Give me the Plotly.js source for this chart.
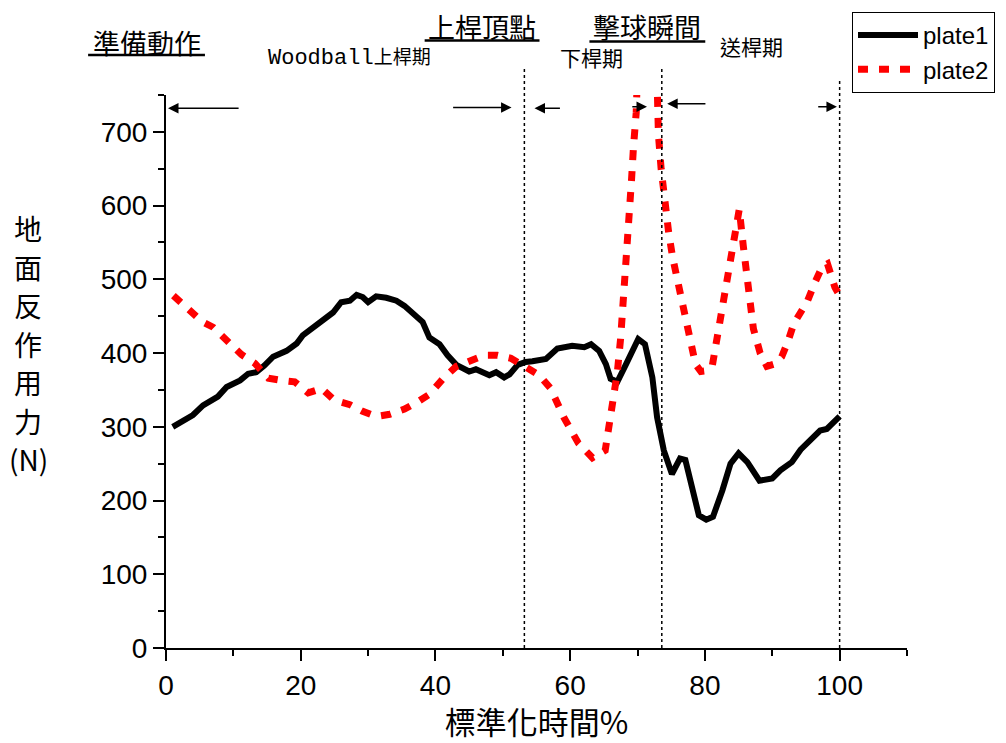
<!DOCTYPE html>
<html>
<head>
<meta charset="utf-8">
<script src="https://cdn.plot.ly/plotly-3.0.1.min.js"></script>
<style>html,body{margin:0;padding:0;background:#fff;}#chart{width:1006px;height:743px;}</style>
</head>
<body>
<div id="chart"></div>
<script>
// ---- data ----
const plate1Name = 'plate1';
const plate1X = [1, 2.8, 4, 5.5, 7.7, 9, 11, 12.2, 13.4, 14.6, 15.9, 17.9, 19.4, 20.3, 21.5, 22.8, 24.8, 26, 27.3, 28.3, 29.2, 30, 31.2, 32.7, 34.2, 35.4, 36.6, 38.1, 39.1, 40.6, 41.8, 43.1, 45, 46, 48, 49, 50.2, 51, 52.2, 53.4, 54.4, 55.4, 56.4, 58.1, 60.3, 62.1, 63.1, 64.3, 65.3, 66, 67, 68.3, 70.1, 71.1, 72.2, 72.9, 73.9, 75.1, 76.3, 77.1, 78.1, 79.1, 80.2, 81.2, 82.6, 83.8, 85, 86.3, 88.1, 90, 91.2, 92.9, 94.2, 95.9, 97.1, 98.1, 100];
const plate1Y = [300, 309, 316, 329, 341, 354, 363, 372, 374, 383, 395, 403, 413, 424, 432, 442, 455, 469, 471, 479, 476, 469, 477, 475, 471, 464, 453, 442, 421, 412, 397, 384, 375, 378, 370, 374, 367, 371, 384, 388, 389, 391, 392, 406, 410, 408, 412, 403, 385, 365, 361, 385, 419, 412, 367, 313, 268, 236, 257, 255, 214, 180, 174, 178, 214, 250, 264, 252, 227, 230, 241, 252, 269, 284, 295, 297, 314];

const plate2Name = 'plate2';
const plate2X = [1.1, 3.3, 5.3, 7, 9.2, 11.2, 13.2, 15.2, 17.1, 19.1, 21.1, 23.1, 25, 27.3, 29.2, 31.2, 33.2, 35.4, 37.4, 39.1, 41.1, 43.1, 45.3, 47.3, 49.2, 51.2, 53.4, 55.4, 57.1, 59.1, 61.2, 63.3, 65.2, 66.1, 67, 67.5, 67.9, 68.5, 69.1, 69.4, 69.8, 70.4, 71.5, 72.6, 73.1, 73.5, 74, 74.6, 75.2, 76.1, 77.1, 77.9, 78.6, 79.4, 80.3, 81.1, 82, 83.1, 83.9, 84.5, 85.1, 85.7, 86.4, 87.2, 88.2, 89.2, 90.3, 91.4, 92.3, 93.2, 94.2, 95.2, 96.3, 97.4, 98.2, 99.3, 100];
const plate2Y = [478, 460, 443, 435, 415, 398, 386, 366, 363, 361, 346, 352, 336, 330, 321, 314, 317, 324, 334, 344, 365, 382, 390, 397, 397, 393, 381, 370, 352, 312, 278, 258, 268, 315, 374, 421, 468, 550, 634, 680, 726, 900, 960, 880, 696, 650, 603, 565, 530, 490, 454, 408, 385, 375, 376, 383, 430, 488, 535, 570, 595, 545, 490, 433, 400, 382, 385, 395, 415, 440, 455, 470, 495, 517, 521, 489, 478];

// phase boundaries (x, %)
const phaseLines = [53.2, 73.6, 100];
// phase arrows: [head x, tail x, y]
const phaseArrows = [[0.3, 11.0, 732], [51.3, 42.4, 733], [54.7, 58.7, 732], [71.4, 69.0, 734], [74.4, 80.3, 738], [99.6, 96.6, 734]];

const xTitle = '標準化時間%';
const yTitleChars = ['地', '面', '反', '作', '用', '力', '(N)'];
const xTickVals = [0, 20, 40, 60, 80, 100];
const yTickVals = [0, 100, 200, 300, 400, 500, 600, 700];

// ---- layout helpers (pixel -> paper) ----
const L = 166, R = 908, T = 95, B = 648, W = R - L, H = B - T;
const px = x => (x - L) / W;
const py = y => (B - y) / H;

const CJK = 'Noto Sans CJK TC';
const SANS = 'Liberation Sans, Arial, sans-serif';

const traces = [
  {x: plate1X, y: plate1Y, name: plate1Name, type: 'scatter', mode: 'lines',
   line: {color: '#000', width: 6}},
  {x: plate2X, y: plate2Y, name: plate2Name, type: 'scatter', mode: 'lines',
   line: {color: '#ff0000', width: 7, dash: '10px,11px'}}
];

const annotations = [];
// vertical y-axis title, one character per row
yTitleChars.forEach((c, i) => annotations.push({xref: 'paper', yref: 'paper', x: px(28), y: py(228 + i * 38.5),
  xanchor: 'center', yanchor: 'middle', text: c, showarrow: false,
  font: {family: CJK, size: 28, color: '#000'}}));

const labels = [
  {t: '準備動作', x: 147, y: 42, s: 27},
  {t: '上桿頂點', x: 482, y: 26, s: 27},
  {t: '擊球瞬間', x: 648, y: 26, s: 27},
  {t: 'Woodball<span style="font-family:Noto Sans CJK TC;font-size:19px">上桿期</span>', x: 350, y: 57, s: 22, f: 'Liberation Mono, monospace'},
  {t: '下桿期', x: 592, y: 57, s: 21},
  {t: '送桿期', x: 752, y: 46, s: 21}
];
labels.forEach(l => annotations.push({xref: 'paper', yref: 'paper', x: px(l.x), y: py(l.y),
  xanchor: 'center', yanchor: 'middle', text: l.t, showarrow: false,
  font: {family: l.f || CJK, size: l.s, color: '#000'}}));

phaseArrows.forEach(a => annotations.push({xref: 'x', yref: 'y', axref: 'x', ayref: 'y',
  x: a[0], y: a[2], ax: a[1], ay: a[2], text: '', showarrow: true,
  arrowhead: 2, arrowsize: 1.4, arrowwidth: 1.5, arrowcolor: '#000', standoff: 0, startstandoff: 0}));

const shapes = [];
phaseLines.forEach((x, i) => shapes.push({type: 'line', xref: 'x', yref: 'paper',
  x0: x, x1: x, y0: 0, y1: py([66, 68, 80][i]), line: {color: '#000', width: 1.5, dash: 'dot'}}));
[[88, 205, 55], [425, 540, 40.5], [590, 706, 41.5]].forEach(u => shapes.push({type: 'line', xref: 'paper', yref: 'paper',
  x0: px(u[0]), x1: px(u[1]), y0: py(u[2]), y1: py(u[2]), line: {color: '#000', width: 2.5}}));

const layout = {
  width: 1006, height: 743,
  margin: {l: L, r: 1006 - R, t: T, b: 743 - B},
  paper_bgcolor: '#fff', plot_bgcolor: '#fff',
  font: {family: SANS, color: '#000'},
  showlegend: true,
  legend: {x: px(852), y: py(12), xanchor: 'left', yanchor: 'top', bgcolor: '#fff',
    bordercolor: '#000', borderwidth: 1, font: {family: SANS, size: 24, color: '#000'},
    itemwidth: 60, tracegroupgap: 0},
  xaxis: {range: [0, 110], tickvals: xTickVals, ticks: 'outside', ticklen: 11, tickwidth: 2, tickcolor: '#000',
    showline: true, linewidth: 2, linecolor: '#000', showgrid: false, zeroline: false,
    tickfont: {family: SANS, size: 28, color: '#000'},
    minor: {dtick: 10, tick0: 0, ticks: 'outside', ticklen: 6, tickwidth: 2, tickcolor: '#000', showgrid: false},
    title: {text: xTitle, font: {family: CJK, size: 31, color: '#000'}, standoff: 16}},
  yaxis: {range: [0, 750], tickvals: yTickVals, ticks: 'outside', ticklen: 11, tickwidth: 2, tickcolor: '#000',
    showline: true, linewidth: 2, linecolor: '#000', showgrid: false, zeroline: false,
    tickfont: {family: SANS, size: 28, color: '#000'},
    minor: {dtick: 50, tick0: 0, ticks: 'outside', ticklen: 6, tickwidth: 2, tickcolor: '#000', showgrid: false}},
  annotations: annotations,
  shapes: shapes
};

Plotly.newPlot('chart', traces, layout, {displayModeBar: false, staticPlot: true});
</script>
</body>
</html>
